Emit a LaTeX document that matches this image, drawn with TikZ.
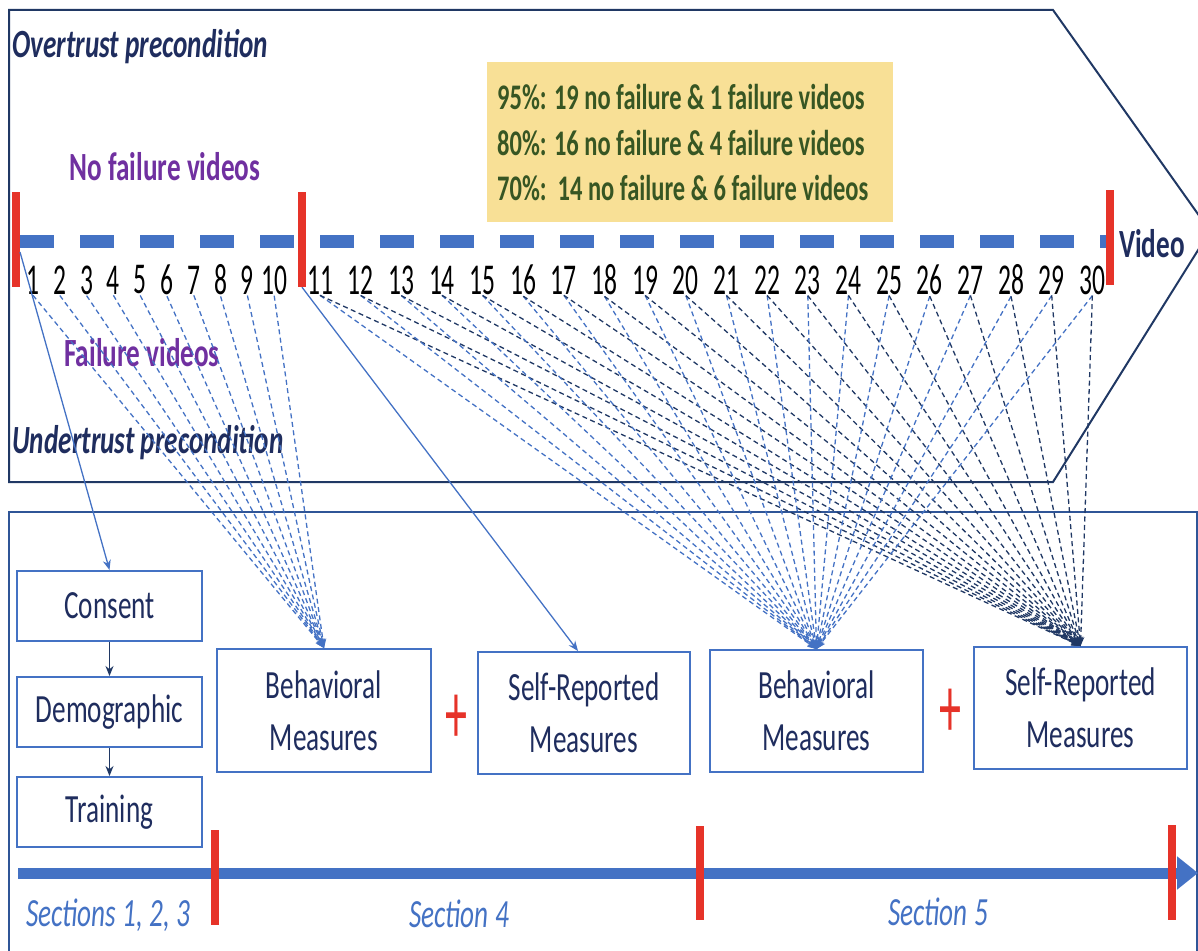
\documentclass[tikz,border=0pt]{standalone}
\usepackage{fontspec}
\setmainfont{Carlito}[FakeStretch=0.68]
\newfontfamily\numfont{Carlito}[FakeStretch=0.58]
\newfontfamily\plusfont{Carlito}[FakeStretch=0.5]
\usetikzlibrary{arrows.meta,calc}
\definecolor{navy}{HTML}{1F2D5E}
\definecolor{boxnavy}{HTML}{203864}
\definecolor{mblue}{HTML}{4472C4}
\definecolor{dblue}{HTML}{2F5597}
\definecolor{vred}{HTML}{E63329}
\definecolor{vpurple}{HTML}{7030A0}
\definecolor{gold}{HTML}{F8E096}
\definecolor{dgreen}{HTML}{375623}
\tikzset{
  numlab/.style={font=\numfont\fontsize{44}{44}\selectfont, text=black, inner sep=1pt},
  mbox/.style={draw=mblue, line width=2pt, text=navy, align=center, inner sep=0pt,
    font=\fontsize{40}{52}\selectfont},
  redbar/.style={fill=vred, draw=none, minimum width=8pt, inner sep=0pt},
  lfan/.style={draw=mblue, line width=1.3pt, dash pattern=on 5pt off 3.5pt,
    -{Stealth[length=9pt,width=7pt]}},
  dfan/.style={draw=boxnavy, line width=1.3pt, dash pattern=on 5pt off 3.5pt,
    -{Stealth[length=9pt,width=7pt]}},
  solidarr/.style={draw=mblue, line width=1.3pt, -{Stealth[length=10pt,width=8pt]}},
  navyarr/.style={draw=boxnavy, line width=1.3pt, -{Stealth[length=10pt,width=8pt]}},
  headtxt/.style={text=navy, inner sep=0pt, font=\bfseries\itshape\fontsize{40}{48}\selectfont},
  purtxt/.style={text=vpurple, inner sep=0pt, font=\bfseries\fontsize{40}{48}\selectfont},
  sectxt/.style={text=mblue, inner sep=0pt, font=\itshape\fontsize{40}{48}\selectfont},
  legtxt/.style={text=dgreen, inner sep=0pt, align=left, font=\bfseries\fontsize{36}{45.5}\selectfont},
  plus/.style={text=vred, inner sep=0pt, font=\plusfont\fontsize{88}{88}\selectfont}
}
\begin{document}
\begin{tikzpicture}[x=1pt,y=-1pt]
\useasboundingbox (0,0) rectangle (1198,950);
% frames
\draw[boxnavy, line width=2pt] (9,10) -- (1053,10) -- (1210,231) -- (1053,482) -- (9,482) -- cycle;
\draw[dblue, line width=2pt] (9,512) rectangle (1197,970);
% yellow legend
\node[fill=gold, minimum width=406pt, minimum height=160pt, inner sep=0pt] (legend) at (690,142) {};
\node[legtxt, anchor=west] (legtext) at (497,143)
  {95\%: 19 no failure \& 1 failure videos\\
   80\%: 16 no failure \& 4 failure videos\\
   70\%:\ \ 14 no failure \& 6 failure videos};
% dashed video line
\draw[mblue, line width=13pt, dash pattern=on 34pt off 26pt] (20,241) -- (1110,241);
% red bars
\node[redbar, minimum height=95pt] (rb1) at (16,239.5) {};
\node[redbar, minimum height=95pt] (rb2) at (302,239.5) {};
\node[redbar, minimum height=95pt] (rb3) at (1110,237.5) {};
% texts top
\node[headtxt, anchor=west] (over) at (12,47) {Overtrust precondition};
\node[purtxt] (nofail) at (165,167) {No failure videos};
\node[purtxt] (fail) at (142,353) {Failure videos};
\node[headtxt, anchor=west] (under) at (12,443) {Undertrust precondition};
\node[text=navy, inner sep=0pt, anchor=west, font=\bfseries\fontsize{40}{48}\selectfont] (video) at (1119,244) {Video};
% numbers
\foreach \i in {1,...,10} \node[numlab] (n\i) at ({33+(\i-1)*26.8},280) {\i};
\foreach \i in {11,...,30} \node[numlab] (n\i) at ({320+(\i-11)*40.65},280) {\i};
% boxes
\node[mbox, minimum width=185pt, minimum height=70pt] (consent) at (109.5,606) {Consent};
\node[mbox, minimum width=185pt, minimum height=70pt] (demo) at (109.5,712) {Demographic};
\node[mbox, minimum width=185pt, minimum height=70pt] (train) at (109.5,812) {Training};
\node[mbox, minimum width=214pt, minimum height=123pt] (b1) at (324,710.5) {Behavioral\\Measures};
\node[mbox, minimum width=212pt, minimum height=122pt] (s1) at (584,713) {Self-Reported\\Measures};
\node[mbox, minimum width=213pt, minimum height=122pt] (b2) at (816.5,711) {Behavioral\\Measures};
\node[mbox, minimum width=213pt, minimum height=122pt] (s2) at (1080.5,708) {Self-Reported\\Measures};
\node[plus] (p1) at (456,719) {+};
\node[plus] (p2) at (950,713) {+};
% connectors
\coordinate (c1) at (20,252);
\draw[solidarr] (c1) -- (consent.north);
\draw[solidarr] (rb2.south) -- ($(s1.north)+(-6,0)$);
\draw[navyarr] (consent.south) -- (demo.north);
\draw[navyarr] (demo.south) -- (train.north);
\foreach \i in {1,...,10} \draw[lfan] (n\i.south) -- (b1.north);
\foreach \i in {11,...,30} {
  \draw[lfan] (n\i.south) -- (b2.north);
  \draw[dfan] (n\i.south) -- (s2.north);
}
% timeline
\coordinate (t0) at (18,873);
\coordinate (t1) at (1198,873);
\draw[mblue, line width=11pt, -{Triangle[length=21pt 0,width=32pt 0]}] (t0) -- (t1);
\node[redbar, minimum height=95pt] (tb1) at (215,877.5) {};
\node[redbar, minimum height=94pt] (tb2) at (700,873) {};
\node[redbar, minimum height=95pt] (tb3) at (1172,872.5) {};
\node[sectxt] (sec1) at (108,915) {Sections 1, 2, 3};
\node[sectxt] (sec4) at (459,914) {Section 4};
\node[sectxt] (sec5) at (938,912) {Section 5};
\end{tikzpicture}
\end{document}
